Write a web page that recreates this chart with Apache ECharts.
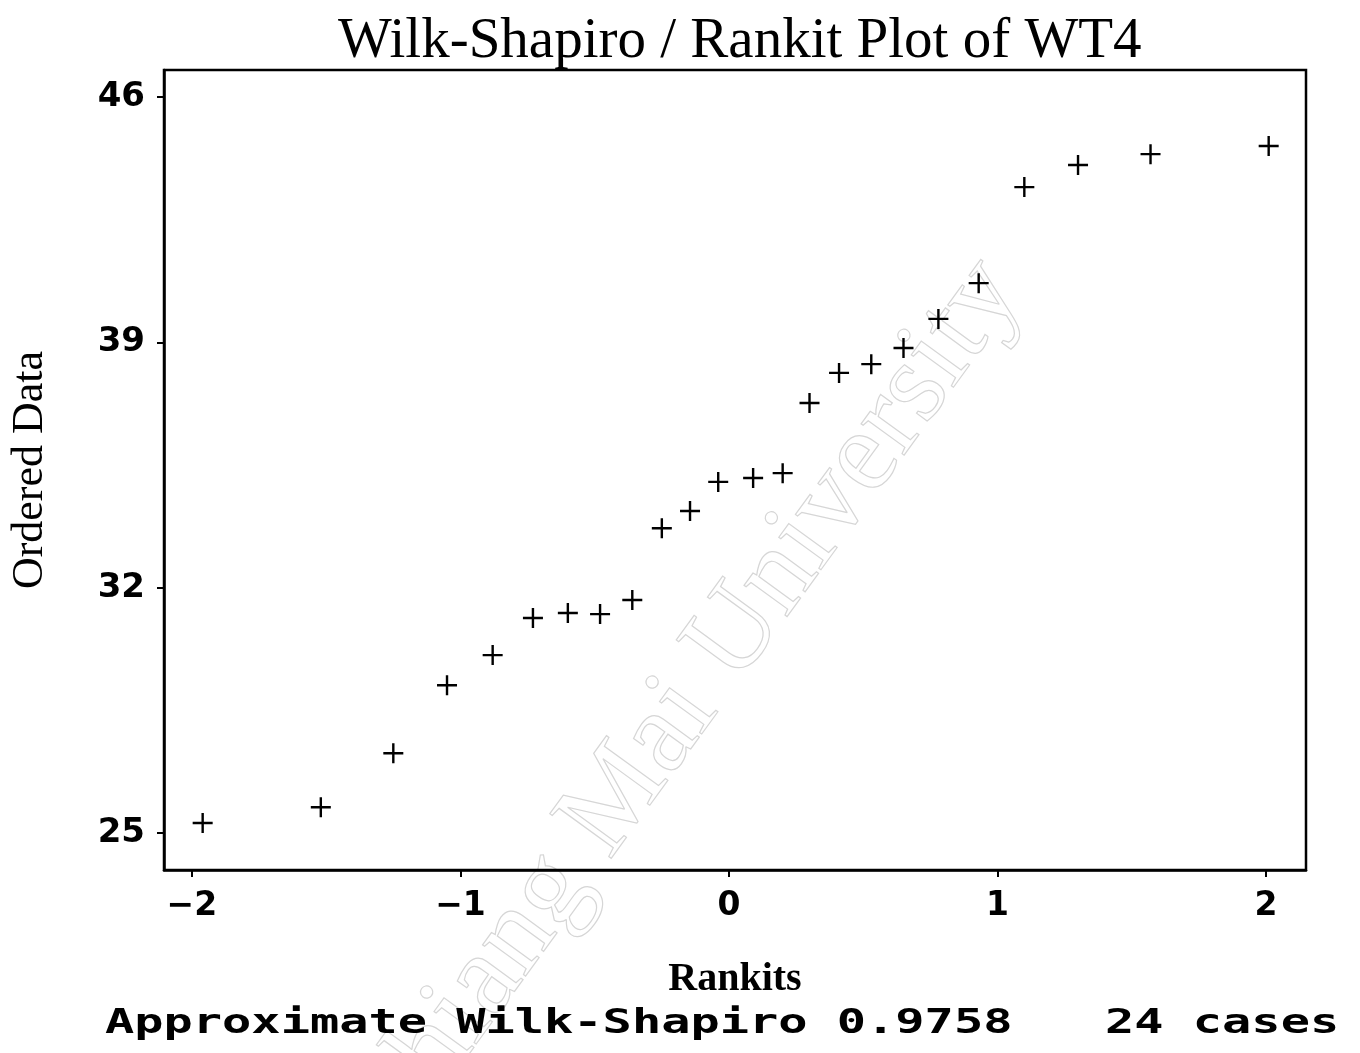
<!DOCTYPE html>
<html>
<head>
<meta charset="utf-8">
<script src="https://cdn.jsdelivr.net/npm/echarts@6/dist/echarts.min.js"></script>
<style>html,body{margin:0;padding:0;background:#fff}#c{width:1360px;height:1053px}</style>
</head>
<body>
<div id="c"></div>
<script>
// Rankits (x) and ordered data (y)
const rankits = [-1.96, -1.52, -1.25, -1.05, -0.88, -0.73, -0.60, -0.48, -0.36, -0.25, -0.145, -0.04,
                 0.09, 0.20, 0.30, 0.41, 0.53, 0.65, 0.78, 0.93, 1.10, 1.30, 1.57, 2.01];
const orderedData = [25.29, 25.74, 27.28, 29.22, 30.08, 31.14, 31.28, 31.25, 31.65, 33.70, 34.19, 35.02,
                     35.13, 35.27, 37.27, 38.13, 38.38, 38.84, 39.67, 40.69, 43.43, 44.06, 44.37, 44.60];
const xTicks = [-2, -1, 0, 1, 2];
const yTicks = [25, 32, 39, 46];
const titleText = 'Wilk-Shapiro / Rankit Plot of WT4';
const statText = 'Approximate Wilk-Shapiro 0.9758';
const casesText = '24 cases';

const points = rankits.map((r, i) => [r, orderedData[i]]);
const plusPath = 'path://M0,8.8H20V11.2H0Z M8.8,0H11.2V20H8.8Z';

const chart = echarts.init(document.getElementById('c'), null, {renderer: 'canvas'});
chart.setOption({
  backgroundColor: '#fff',
  animation: false,
  title: {
    text: titleText,
    left: 333,
    top: 9,
    textStyle: {fontFamily: 'Liberation Serif', fontSize: 57, fontWeight: 'normal', color: '#000'}
  },
  grid: {left: 164, right: 54, top: 70, bottom: 183, containLabel: false, outerBoundsMode: 'none',
         show: true, borderColor: '#000', borderWidth: 2.5, backgroundColor: 'transparent'},
  xAxis: {
    type: 'value', min: -2.104, max: 2.149,
    name: 'Rankits', nameLocation: 'middle', nameGap: 90,
    nameTextStyle: {fontFamily: 'Liberation Serif', fontSize: 40, fontWeight: 'bold', color: '#000'},
    axisLine: {show: true, onZero: false, lineStyle: {color: '#000', width: 2.5}},
    axisTick: {show: true, length: 7, lineStyle: {color: '#000', width: 2}, customValues: xTicks},
    axisLabel: {customValues: xTicks, margin: 20, fontFamily: 'DejaVu Sans', fontWeight: 'bold', fontSize: 33, color: '#000',
      formatter: v => (v < 0 ? '\u2212' + Math.abs(v) : String(v))},
    splitLine: {show: false}
  },
  yAxis: {
    type: 'value', min: 23.95, max: 46.77,
    name: 'Ordered Data', nameLocation: 'middle', nameGap: 112, nameRotate: 90,
    nameTextStyle: {fontFamily: 'Liberation Serif', fontSize: 44, fontWeight: 'normal', color: '#000'},
    axisLine: {show: true, onZero: false, lineStyle: {color: '#000', width: 2.5}},
    axisTick: {show: true, length: 7, lineStyle: {color: '#000', width: 2}, customValues: yTicks},
    axisLabel: {customValues: yTicks, margin: 19, fontFamily: 'DejaVu Sans', fontWeight: 'bold', fontSize: 34, color: '#000'},
    splitLine: {show: false}
  },
  graphic: [
    {type: 'text', x: 685, y: 705, rotation: 54 * Math.PI / 180, z: -1,
     style: {text: 'Chiang Mai University', font: '116px "Liberation Serif"', fill: 'none', stroke: '#d6d6d6', lineWidth: 1.2,
             textAlign: 'center', textVerticalAlign: 'middle'}},
    {type: 'text', x: 105, y: 1024, scaleX: 1.43,
     style: {text: statText, font: 'bold 34px "DejaVu Sans Mono"', fill: '#000', textVerticalAlign: 'middle'}},
    {type: 'text', x: 1105, y: 1024, scaleX: 1.43,
     style: {text: casesText, font: 'bold 34px "DejaVu Sans Mono"', fill: '#000', textVerticalAlign: 'middle'}}
  ],
  series: [{
    type: 'scatter',
    data: points,
    symbol: plusPath,
    symbolSize: 20,
    itemStyle: {color: '#000', opacity: 1}
  }]
});
</script>
</body>
</html>
